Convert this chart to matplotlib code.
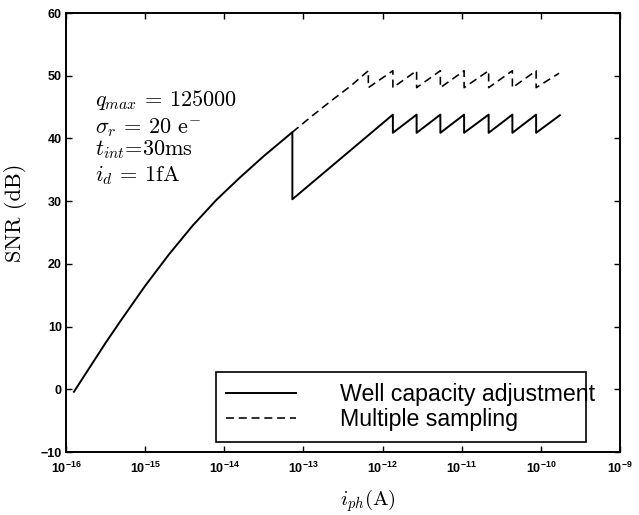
import matplotlib
matplotlib.use('Agg')
import numpy as np
import matplotlib.pyplot as plt
from matplotlib.ticker import LogLocator, NullLocator

# values (log10 of photocurrent in A, SNR in dB)
well_logi = [-15.90, -15.70, -15.50, -15.30, -15.00, -14.70, -14.40, -14.10,
             -13.80, -13.50, -13.14, -13.14,
             -11.87, -11.87, -11.57, -11.57, -11.27, -11.27, -10.97, -10.97,
             -10.66, -10.66, -10.36, -10.36, -10.06, -10.06, -9.76]
well_snr = [-0.4, 3.5, 7.4, 11.1, 16.5, 21.5, 26.1, 30.2,
            33.8, 37.2, 41.0, 30.3,
            43.8, 40.9, 43.8, 40.9, 43.8, 40.9, 43.8, 40.9,
            43.8, 40.9, 43.8, 40.9, 43.8, 40.9, 43.7]

multi_logi = [-13.14, -12.90, -12.65, -12.40, -12.18, -12.18,
              -11.87, -11.87, -11.57, -11.57, -11.27, -11.27, -10.97, -10.97,
              -10.66, -10.66, -10.36, -10.36, -10.06, -10.06, -9.77]
multi_snr = [41.0, 43.5, 46.0, 48.4, 50.8, 48.1,
             50.8, 48.1, 50.8, 48.1, 50.8, 48.1, 50.8, 48.1,
             50.8, 48.1, 50.8, 48.1, 50.8, 48.1, 50.4]

labels = ['Well capacity adjustment', 'Multiple sampling']
params = [r'$q_{max}$ = 125000', r'$\sigma_r$ = 20 e$^{-}$',
          r'$t_{int}$=30ms', r'$i_d$ = 1fA']

plt.rcParams['font.family'] = ['Liberation Sans', 'DejaVu Sans']
plt.rcParams['mathtext.fontset'] = 'cm'

fig = plt.figure(figsize=(6.39, 5.15), dpi=100)
ax = fig.add_axes([0.1033, 0.1223, 0.867, 0.8524])

ax.plot(10.0 ** np.array(well_logi), well_snr, color='black', lw=1.4,
        label=labels[0])
ax.plot(10.0 ** np.array(multi_logi), multi_snr, color='black', lw=1.15,
        dashes=(5, 3), label=labels[1])

ax.set_xscale('log')
ax.set_xlim(1e-16, 1e-9)
ax.set_ylim(-10, 60)
ax.xaxis.set_major_locator(LogLocator(base=10, numticks=10))
ax.xaxis.set_minor_locator(NullLocator())
ax.set_yticks(range(-10, 61, 10))

ax.tick_params(direction='in', length=4, width=1, top=True, right=True,
               labelsize=9, pad=3)
ax.tick_params(axis='x', pad=6)
for lab in ax.get_xticklabels() + ax.get_yticklabels():
    lab.set_fontweight('bold')
for sp in ax.spines.values():
    sp.set_linewidth(1.4)

ax.set_xlabel(r'$i_{ph}$(A)', fontfamily='cmr10', fontsize=15, va='center')
ax.xaxis.set_label_coords(0.545, -0.110)
ax.set_ylabel('SNR (dB)', fontfamily='cmr10', fontsize=16)
ax.yaxis.set_label_coords(-0.070, 0.544)

ys = [0.802, 0.740, 0.688, 0.631]
for txt, y in zip(params, ys):
    ax.text(0.052, y, txt, transform=ax.transAxes, fontfamily='cmr10',
            fontsize=16, va='center', ha='left')

leg = ax.legend(loc='center', bbox_to_anchor=(0.249, 0.023, 0.711, 0.159),
                mode='expand', fontsize=16.7, handlelength=3.0,
                handletextpad=1.9, borderpad=0.45, labelspacing=0.1,
                fancybox=False, framealpha=1, edgecolor='black')
leg.get_frame().set_linewidth(1.2)

fig.savefig('out.png', dpi=100)
